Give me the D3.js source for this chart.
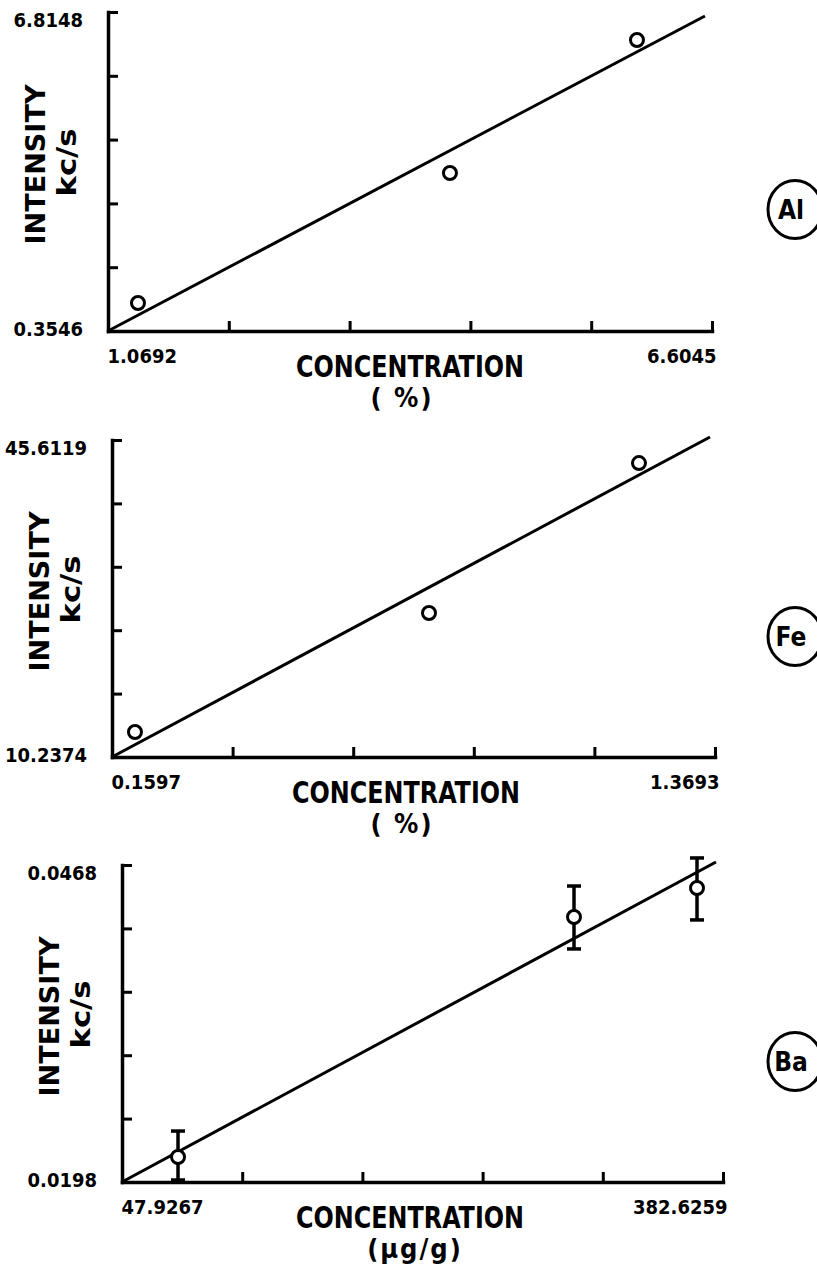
<!DOCTYPE html>
<html>
<head>
<meta charset="utf-8">
<script src="https://cdn.jsdelivr.net/npm/d3@7"></script>
<style>
  body { margin: 0; background: #fff; }
  svg { display: block; }
  text { font-family: "DejaVu Sans Condensed", "DejaVu Sans", sans-serif; font-weight: bold; fill: #000; }
</style>
</head>
<body>
<svg id="chart" width="817" height="1272"></svg>
<script>
// Al panel
const alDomainX = [1.0692, 6.6045];
const alDomainY = [0.3546, 6.8148];
const alConc = [1.344, 4.203, 5.917];
const alInt = [0.922, 3.554, 6.248];
const alFitX = [1.0692, 6.540];
const alFitY = [0.3546, 6.734];

// Fe panel
const feDomainX = [0.1597, 1.3693];
const feDomainY = [10.2374, 45.6119];
const feConc = [0.2058, 0.7956, 1.2168];
const feInt = [13.03, 26.31, 43.04];
const feFitX = [0.1597, 1.3593];
const feFitY = [10.2374, 45.95];

// Ba panel (with error bars)
const baDomainX = [47.9267, 382.6259];
const baDomainY = [0.0198, 0.0468];
const baConc = [79.12, 299.65, 368.15];
const baInt = [0.02193, 0.04237, 0.04484];
const baLow = [0.01997, 0.03965, 0.04212];
const baHigh = [0.02414, 0.04501, 0.0474];
const baFitX = [47.9267, 378.73];
const baFitY = [0.0198, 0.04706];

const elements = ["Al", "Fe", "Ba"];
const xTitle = "CONCENTRATION";
const xUnits = ["( %)", "( %)", "(µg/g)"];
const yTitle = "INTENSITY";
const yUnit = "kc/s";

// layout of each panel on the page
const layout = [
  { left: 108, right: 712, top: 12, bottom: 331, titleX: 410, unitX: 402 },
  { left: 112, right: 715, top: 440, bottom: 757, titleX: 406, unitX: 402 },
  { left: 122, right: 723, top: 865, bottom: 1182, titleX: 410, unitX: 415 }
];

const panels = [
  { domX: alDomainX, domY: alDomainY, conc: alConc, inten: alInt, fitX: alFitX, fitY: alFitY },
  { domX: feDomainX, domY: feDomainY, conc: feConc, inten: feInt, fitX: feFitX, fitY: feFitY },
  { domX: baDomainX, domY: baDomainY, conc: baConc, inten: baInt, fitX: baFitX, fitY: baFitY, low: baLow, high: baHigh }
];

const svg = d3.select("#chart");
svg.append("rect").attr("width", 817).attr("height", 1272).attr("fill", "#fff");

const fmt = d3.format(".4f");

function drawPanel(p, L, idx) {
  const x = d3.scaleLinear().domain(p.domX).range([L.left, L.right]);
  const y = d3.scaleLinear().domain(p.domY).range([L.bottom, L.top]);
  const g = svg.append("g");

  const xt = d3.range(6).map(i => p.domX[0] + i * (p.domX[1] - p.domX[0]) / 5);
  const yt = d3.range(6).map(i => p.domY[0] + i * (p.domY[1] - p.domY[0]) / 5);
  const ends = (d, i) => (i === 0 || i === 5) ? fmt(d) : "";

  const gx = g.append("g")
    .attr("transform", `translate(0,${L.bottom})`)
    .call(d3.axisBottom(x).tickValues(xt).tickSize(-10).tickSizeOuter(0).tickPadding(18).tickFormat(ends));
  gx.attr("font-size", 20).attr("font-family", null);
  gx.selectAll("text")
    .attr("text-anchor", (d, i) => i === 0 ? "start" : "end")
    .attr("dx", (d, i) => i === 0 ? -1 : 4);

  const gy = g.append("g")
    .attr("transform", `translate(${L.left},0)`)
    .call(d3.axisLeft(y).tickValues(yt).tickSize(-10).tickSizeOuter(0).tickPadding(25).tickFormat(ends));
  gy.attr("font-size", 20).attr("font-family", null);
  gy.selectAll("text").attr("y", (d, i) => i === 5 ? 8 : -2);

  g.selectAll(".domain").attr("stroke", "#000").attr("stroke-width", 3.5).attr("stroke-linecap", "square");
  g.selectAll(".tick line").attr("stroke", "#000").attr("stroke-width", 3);

  // fitted line
  g.append("line")
    .attr("x1", x(p.fitX[0])).attr("y1", y(p.fitY[0]))
    .attr("x2", x(p.fitX[1])).attr("y2", y(p.fitY[1]))
    .attr("stroke", "#000").attr("stroke-width", 3);

  // error bars
  if (p.low) {
    const eb = g.selectAll(".err").data(p.conc).enter().append("g").attr("class", "err");
    eb.append("line")
      .attr("x1", d => x(d)).attr("x2", d => x(d))
      .attr("y1", (d, i) => y(p.low[i])).attr("y2", (d, i) => y(p.high[i]))
      .attr("stroke", "#000").attr("stroke-width", 3.5);
    ["low", "high"].forEach(k => {
      eb.append("line")
        .attr("x1", d => x(d) - 7).attr("x2", d => x(d) + 7)
        .attr("y1", (d, i) => y(p[k][i])).attr("y2", (d, i) => y(p[k][i]))
        .attr("stroke", "#000").attr("stroke-width", 3.5);
    });
  }

  // measured points
  g.selectAll(".pt").data(p.conc).enter().append("circle")
    .attr("class", "pt")
    .attr("cx", d => x(d))
    .attr("cy", (d, i) => y(p.inten[i]))
    .attr("r", 6.5)
    .attr("fill", "#fff")
    .attr("stroke", "#000")
    .attr("stroke-width", 3);

  // axis titles
  g.append("text")
    .attr("x", L.titleX).attr("y", L.bottom + 35).attr("dy", "0.36em")
    .attr("text-anchor", "middle").attr("font-size", 30)
    .attr("textLength", 228).attr("lengthAdjust", "spacingAndGlyphs")
    .text(xTitle);
  g.append("text")
    .attr("x", L.unitX).attr("y", L.bottom + 66).attr("dy", "0.36em")
    .attr("text-anchor", "middle").attr("font-size", 27)
    .attr("letter-spacing", 2)
    .text(xUnits[idx]);

  const midY = (L.top + L.bottom) / 2;
  g.append("text")
    .attr("transform", `translate(${L.left - 73},${midY - 7}) rotate(-90)`)
    .attr("dy", "0.36em").attr("text-anchor", "middle").attr("font-size", 27)
    .attr("textLength", 160).attr("lengthAdjust", "spacingAndGlyphs")
    .text(yTitle);
  g.append("text")
    .attr("transform", `translate(${L.left - 42},${midY - 9}) rotate(-90)`)
    .attr("dy", "0.36em").attr("text-anchor", "middle").attr("font-size", 27)
    .attr("textLength", 68).attr("lengthAdjust", "spacingAndGlyphs")
    .text(yUnit);

  // circled element symbol
  const cy = midY + 38;
  g.append("ellipse")
    .attr("cx", 795).attr("cy", cy).attr("rx", 27).attr("ry", 29)
    .attr("fill", "none").attr("stroke", "#000").attr("stroke-width", 3);
  g.append("text")
    .attr("x", 791).attr("y", cy).attr("dy", "0.36em")
    .attr("text-anchor", "middle").attr("font-size", 26)
    .text(elements[idx]);
}

panels.forEach((p, i) => drawPanel(p, layout[i], i));
</script>
</body>
</html>
